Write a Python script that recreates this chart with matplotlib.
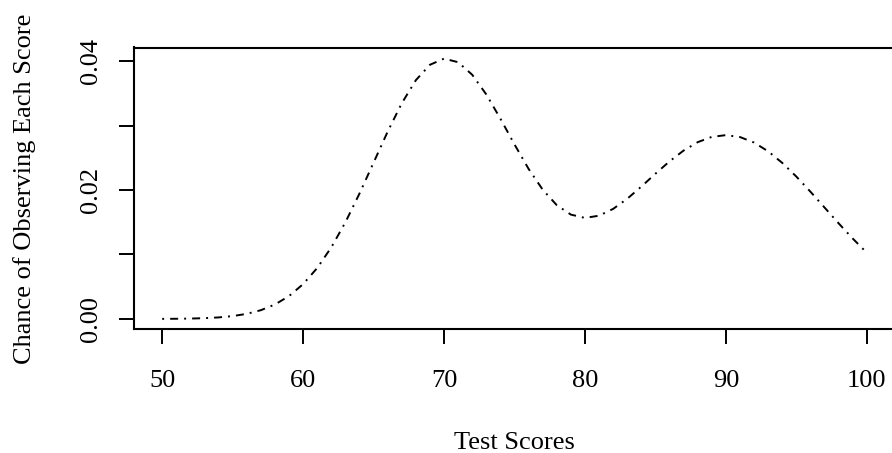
import numpy as np
import matplotlib
matplotlib.use("Agg")
import matplotlib.pyplot as plt

# test score grid and the density
scores = list(range(50, 101))
density = [
    0.0000134, 0.0000291, 0.0000612, 0.000123, 0.000238, 0.000443, 0.000792,
    0.001358, 0.002240, 0.003549, 0.005402, 0.007900, 0.011102, 0.014990,
    0.019448, 0.024245, 0.029049, 0.033451, 0.037031, 0.039421, 0.040375,
    0.039820, 0.037872, 0.034815, 0.031060, 0.027065, 0.023276, 0.020053,
    0.017648, 0.016184, 0.015670, 0.016016, 0.017070, 0.018642, 0.020527,
    0.022523, 0.024441, 0.026119, 0.027417, 0.028236, 0.028509, 0.028213,
    0.027359, 0.025997, 0.024204, 0.022080, 0.019735, 0.017284, 0.014831,
    0.012469, 0.010271,
]
x_ticks = [50, 60, 70, 80, 90, 100]
y_ticks = [0.00, 0.01, 0.02, 0.03, 0.04]
y_labels = ["0.00", "", "0.02", "", "0.04"]

W, H = 892, 453
FS = 19
plt.rcParams['font.family'] = ['Liberation Serif', 'DejaVu Serif']
fig = plt.figure(figsize=(W / 100, H / 100), dpi=100)

left, right, bottom, top = 134, 895, 329.4, 47.5
ax = fig.add_axes([left / W, 1 - bottom / H, (right - left) / W, (bottom - top) / H])

# R style dot-dash (lty 4)
ax.plot(scores, density, color='black', lw=1.4, linestyle=(0, (1.0, 3.1, 4.1, 3.1)))

ax.set_xlim(48, 102)
ax.set_ylim(-0.00162, 0.0421)
ax.set_xticks(x_ticks)
ax.set_xticklabels([str(t) for t in x_ticks])
ax.set_yticks(y_ticks)
ax.set_yticklabels(y_labels, rotation=90, va='center')

for sp in ax.spines.values():
    sp.set_linewidth(1.5)
ax.tick_params(axis='both', direction='out', length=11, width=1.4,
               labelsize=FS, colors='black')
ax.tick_params(axis='x', pad=18)
ax.tick_params(axis='y', pad=12)

fig.text(514.5 / W, 1 - 443 / H, "Test Scores", ha='center', va='center', fontsize=FS)
fig.text(25 / W, 1 - 188.5 / H, "Chance of Observing Each Score", ha='center',
         va='center', rotation=90, fontsize=FS)

fig.savefig("out.png", dpi=100)
